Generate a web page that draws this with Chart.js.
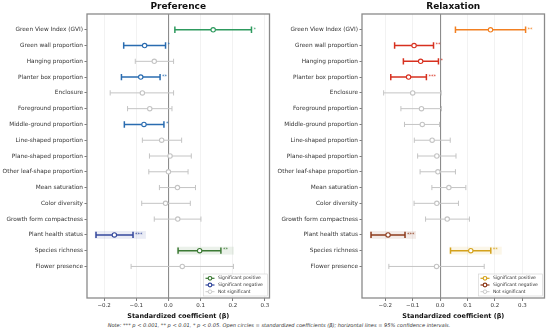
<!DOCTYPE html>
<html>
<head>
<meta charset="utf-8">
<script src="https://cdn.jsdelivr.net/npm/chart.js@4.4.0/dist/chart.umd.min.js"></script>
<style>
body{margin:0;background:#fff;width:550px;height:333px;position:relative;overflow:hidden;font-family:"DejaVu Sans",sans-serif}
.box{position:absolute;top:0;width:275px;height:322px}
#left{left:0}
#right{left:275px}
#note{position:absolute;top:321.5px;left:0;width:558px;text-align:center;font-size:5.1px;font-style:italic;color:#333;white-space:nowrap}
</style>
</head>
<body>
<div class="box" id="left"><canvas id="pref"></canvas></div>
<div class="box" id="right"><canvas id="relax"></canvas></div>
<div id="note">Note: *** p &lt; 0.001, ** p &lt; 0.01, * p &lt; 0.05. Open circles = standardized coefficients (β); horizontal lines = 95% confidence intervals.</div>
<script>
var labels = ['Green View Index (GVI)','Green wall proportion','Hanging proportion','Planter box proportion','Enclosure',
  'Foreground proportion','Middle-ground proportion','Line-shaped proportion','Plane-shaped proportion','Other leaf-shape proportion',
  'Mean saturation','Color diversity','Growth form compactness','Plant health status','Species richness','Flower presence']

var prefCoef = [0.139,-0.074,-0.044,-0.086,-0.081,-0.058,-0.076,-0.021,0.005,0.0,0.028,-0.009,0.029,-0.168,0.097,0.043]
var prefLow  = [0.020,-0.139,-0.103,-0.146,-0.181,-0.127,-0.137,-0.081,-0.059,-0.061,-0.028,-0.083,-0.044,-0.225,0.030,-0.116]
var prefHigh = [0.258,-0.009,0.016,-0.026,0.016,0.011,-0.014,0.041,0.071,0.061,0.084,0.068,0.101,-0.110,0.163,0.202]
var prefStars = ['*','*','','**','','','*','','','','','','','***','**','']

var relaxCoef = [0.184,-0.095,-0.071,-0.115,-0.100,-0.068,-0.065,-0.029,-0.012,-0.008,0.032,-0.012,0.026,-0.190,0.112,-0.013]
var relaxLow  = [0.056,-0.166,-0.134,-0.180,-0.206,-0.143,-0.130,-0.094,-0.082,-0.073,-0.030,-0.095,-0.053,-0.252,0.038,-0.187]
var relaxHigh = [0.312,-0.024,-0.006,-0.050,0.004,0.005,-0.002,0.037,0.058,0.056,0.094,0.067,0.107,-0.128,0.185,0.161]
var relaxStars = ['**','**','*','***','','','','','','','','','','***','**','']

// rows drawn with the second palette and a light band
var highlight = [false,false,false,false,false,false,false,false,false,false,false,false,false,true,true,false]
var xTicks = [-0.2,-0.1,0,0.1,0.2,0.3]
var legendText = ['Significant positive','Significant negative','Not significant']

var GRAY = '#c4c4c4'

function rowColor(i, coef, stars, pal){
  if(!stars[i]) return GRAY
  if(coef[i] > 0) return highlight[i] ? pal.pos2 : pal.pos
  return highlight[i] ? pal.neg2 : pal.neg
}

function hexA(hex, a){
  var r=parseInt(hex.substr(1,2),16), g=parseInt(hex.substr(3,2),16), b=parseInt(hex.substr(5,2),16)
  return 'rgba('+r+','+g+','+b+','+a+')'
}

function makePanel(id, title, coef, low, high, stars, xMin, xMax, pal){
  var cols = labels.map(function(l,i){ return rowColor(i,coef,stars,pal) })
  var datasets = [{
    data: coef.map(function(v,i){ return {x:v,y:i} }),
    showLine:false,
    pointRadius:2.2,
    pointBackgroundColor:'#fff',
    pointBorderColor:cols,
    pointBorderWidth:1.1
  }]
  labels.forEach(function(l,i){
    var sig = !!stars[i]
    datasets.push({
      data:[{x:low[i],y:i},{x:high[i],y:i}],
      showLine:true,
      borderColor:cols[i],
      borderWidth: sig ? 1.5 : 1,
      pointStyle:'line',
      rotation:90,
      pointRadius: sig ? 3.2 : 2.6,
      pointBorderColor:cols[i],
      pointBorderWidth: sig ? 1.5 : 1
    })
  })

  var panelPlugin = {
    id:'panel',
    beforeDatasetsDraw:function(chart){
      var c=chart.ctx, xs=chart.scales.x, ys=chart.scales.y
      c.save()
      labels.forEach(function(l,i){
        if(!highlight[i] || !stars[i]) return
        var x0=xs.getPixelForValue(low[i]-0.004), x1=xs.getPixelForValue(high[i]+0.04)
        var y0=ys.getPixelForValue(i-0.25), y1=ys.getPixelForValue(i+0.25)
        c.fillStyle=hexA(cols[i],0.1)
        c.fillRect(x0,y0,x1-x0,y1-y0)
      })
      c.restore()
    },
    afterDatasetsDraw:function(chart){
      var c=chart.ctx, a=chart.chartArea, xs=chart.scales.x, ys=chart.scales.y
      c.save()
      // stars
      c.font='5px "DejaVu Sans"'
      c.textBaseline='middle'
      c.textAlign='left'
      labels.forEach(function(l,i){
        if(!stars[i]) return
        c.fillStyle=cols[i]
        c.fillText(stars[i], xs.getPixelForValue(high[i])+2, ys.getPixelForValue(i)-0.5)
      })
      // frame
      c.strokeStyle='#8a8a8a'
      c.lineWidth=1.3
      c.strokeRect(a.left,a.top,a.right-a.left,a.bottom-a.top)
      // title
      c.fillStyle='#111'
      c.font='bold 9px "DejaVu Sans"'
      c.textAlign='center'
      c.textBaseline='middle'
      c.fillText(title,(a.left+a.right)/2,6.5)
      // legend
      var bx=a.right-66, by=a.bottom-24, bw=64, bh=22
      c.fillStyle='rgba(255,255,255,0.85)'
      c.strokeStyle='#d0d0d0'
      c.lineWidth=0.6
      c.fillRect(bx,by,bw,bh)
      c.strokeRect(bx,by,bw,bh)
      var lc=[pal.pos2,pal.neg2,GRAY]
      c.font='4.5px "DejaVu Sans"'
      c.textAlign='left'
      lc.forEach(function(col,k){
        var y=by+4.3+k*6.7
        c.strokeStyle=col
        c.lineWidth=k<2?1.2:0.9
        c.beginPath(); c.moveTo(bx+2,y); c.lineTo(bx+11,y); c.stroke()
        c.beginPath(); c.arc(bx+6.5,y,1.8,0,Math.PI*2)
        c.fillStyle='#fff'; c.fill(); c.stroke()
        c.fillStyle='#333'
        c.fillText(legendText[k],bx+14.5,y)
      })
      c.restore()
    }
  }

  return new Chart(document.getElementById(id),{
    type:'scatter',
    data:{datasets:datasets},
    options:{
      responsive:true,
      maintainAspectRatio:false,
      animation:false,
      events:[],
      layout:{padding:{top:14,right:3,left:0,bottom:0}},
      plugins:{legend:{display:false},tooltip:{enabled:false},title:{display:false}},
      scales:{
        x:{
          type:'linear', min:xMin, max:xMax,
          afterBuildTicks:function(s){ s.ticks = xTicks.map(function(v){ return {value:v} }) },
          afterFit:function(s){ s.height = 24 },
          border:{display:false},
          grid:{
            color:function(ctx){ return ctx.tick && ctx.tick.value===0 ? '#8c8c8c' : '#ededed' },
            lineWidth:function(ctx){ return ctx.tick && ctx.tick.value===0 ? 1.1 : 0.7 },
            drawTicks:true, tickLength:3, tickColor:'#444', tickWidth:0.7
          },
          ticks:{
            font:{size:5.5,family:'DejaVu Sans'}, color:'#333', padding:1, maxRotation:0,
            callback:function(v){ return (v<0?'\u2212':'')+Math.abs(v).toFixed(1) }
          },
          title:{display:true,text:'Standardized coefficient (\u03b2)',font:{size:6.5,weight:'bold',family:'DejaVu Sans'},color:'#111',padding:{top:2,bottom:2}}
        },
        y:{
          type:'linear', min:-1, max:17, reverse:true,
          afterBuildTicks:function(s){ s.ticks = labels.map(function(l,i){ return {value:i} }) },
          afterFit:function(s){ s.width = 87 },
          border:{display:false},
          grid:{drawOnChartArea:false, drawTicks:true, tickLength:2.5, tickColor:'#444', tickWidth:0.7},
          ticks:{
            font:{size:5.8,family:'DejaVu Sans'}, color:'#333', padding:1.5, autoSkip:false,
            callback:function(v){ return labels[v] }
          }
        }
      }
    },
    plugins:[panelPlugin]
  })
}

makePanel('pref','Preference',prefCoef,prefLow,prefHigh,prefStars,-0.253,0.314,
  {pos:'#2e9a5e',pos2:'#3c7a35',neg:'#2a6cb0',neg2:'#34489c'})
makePanel('relax','Relaxation',relaxCoef,relaxLow,relaxHigh,relaxStars,-0.285,0.381,
  {pos:'#f28022',pos2:'#d4a21c',neg:'#d7301f',neg2:'#8e3b1c'})
</script>
</body>
</html>
